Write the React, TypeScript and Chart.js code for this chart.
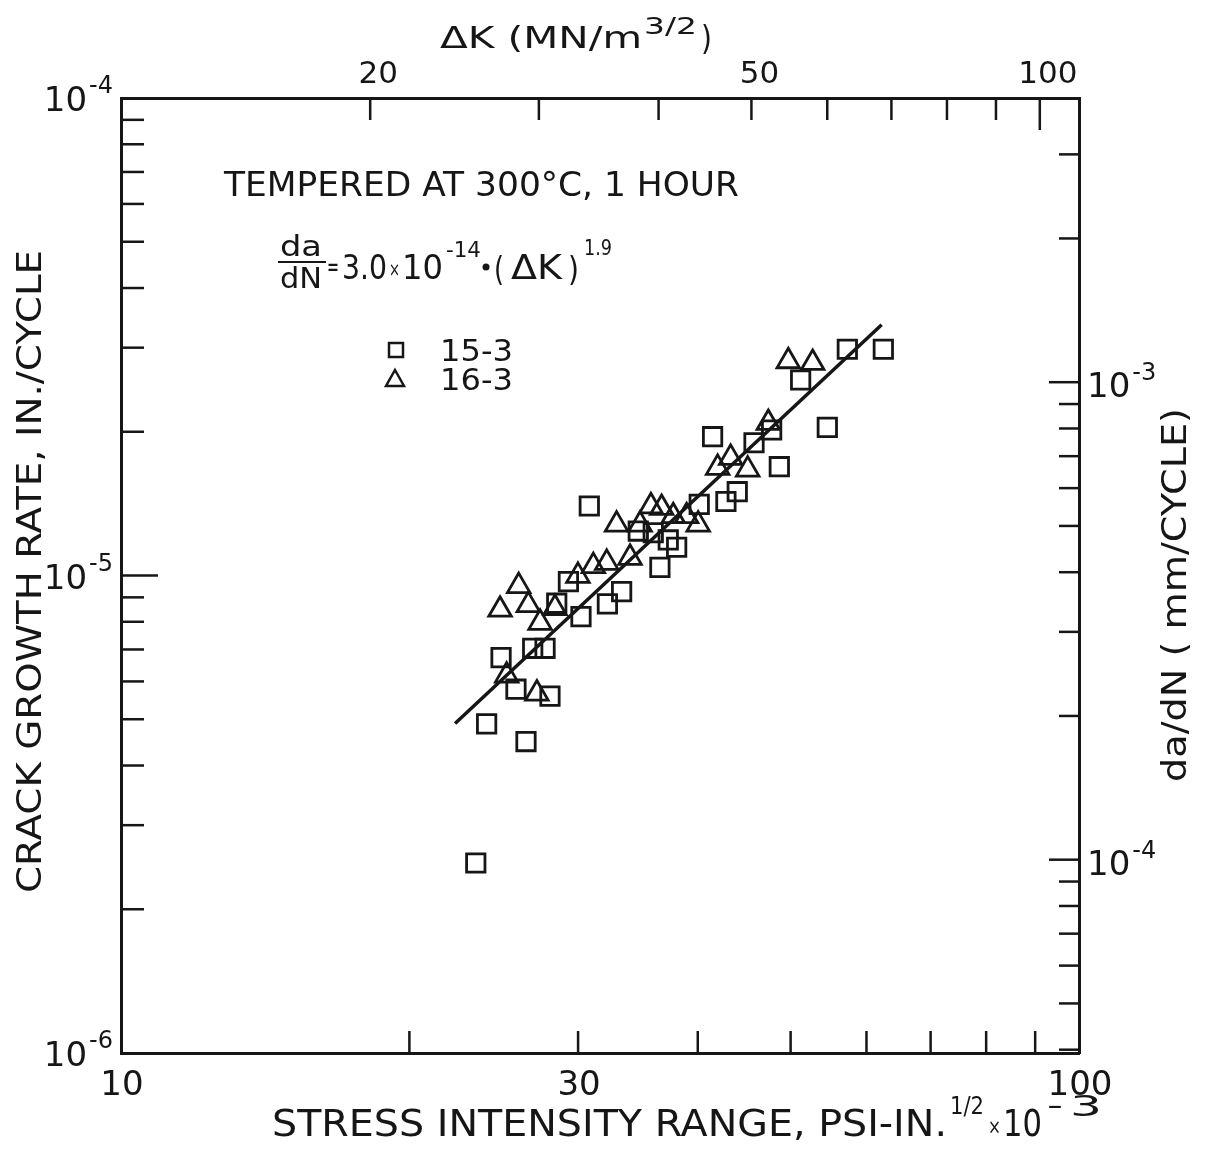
import React, { useEffect, useRef } from 'react';
import { Chart, registerables } from 'chart.js';

Chart.register(...registerables);

const INK = '#161616';
const FONT = '"DejaVu Sans", "Liberation Sans", sans-serif';

// ---- data (ΔK in psi·in^1/2 ×10^-3, da/dN in in./cycle) ----
// 15-3 (squares)
const k153 = [23.46, 24.08, 26.47, 24.93, 25.84, 26.9, 27.71, 28.04, 28.5, 30.21, 29.31, 30.82, 32.19, 33.31, 34.67, 35.94, 37.26, 38.02, 36.52, 40.14, 41.45, 42.8, 43.98, 45.79, 47.77, 48.66, 51.22, 54.61, 57.3, 62.48];
const rate153 = [2.5e-6, 4.89e-6, 4.49e-6, 6.73e-6, 5.78e-6, 7.04e-6, 7.04e-6, 5.59e-6, 8.75e-6, 8.2e-6, 9.71e-6, 1.398e-5, 8.72e-6, 9.25e-6, 1.239e-5, 1.229e-5, 1.187e-5, 1.146e-5, 1.04e-5, 1.409e-5, 1.953e-5, 1.429e-5, 1.498e-5, 1.897e-5, 2.017e-5, 1.69e-5, 2.567e-5, 2.043e-5, 2.977e-5, 2.977e-5];
// 16-3 (triangles)
const k163 = [24.87, 26.01, 26.62, 27.38, 25.27, 27.17, 28.38, 29.99, 31.12, 32.14, 32.91, 33.99, 34.82, 35.74, 36.67, 37.71, 38.94, 40.04, 41.96, 43.29, 45.1, 47.39, 49.72, 52.72];
const rate163 = [8.48e-6, 9.5e-6, 8.67e-6, 7.96e-6, 6.17e-6, 5.66e-6, 8.55e-6, 9.98e-6, 1.046e-5, 1.063e-5, 1.278e-5, 1.089e-5, 1.278e-5, 1.396e-5, 1.385e-5, 1.331e-5, 1.331e-5, 1.278e-5, 1.68e-5, 1.763e-5, 1.666e-5, 2.087e-5, 2.81e-5, 2.787e-5];
// fitted line da/dN = 3.0e-14 (ΔK)^1.9 as drawn
const fitK = [22.32, 62.23];
const fitRate = [4.9e-6, 3.35e-5];

// ---- axes ----
const xMin = 10;
const xMax = 100;
const yMin = 1e-6;
const yMax = 1e-4;
const KSI_TO_MPA = 1.0988;
const RIGHT_FACTOR = 39.37; // right axis scale as printed
const xTickValues = [10, 20, 30, 40, 50, 60, 70, 80, 90, 100];
const xTickLabels = [10, 30, 100];
const topTickValues = [20, 30, 40, 50, 60, 70, 80, 90, 100];
const topTickLabels = [20, 50, 100];
const leftTickValues = [2e-6, 3e-6, 4e-6, 5e-6, 6e-6, 7e-6, 8e-6, 9e-6, 1e-5, 2e-5, 3e-5, 4e-5, 5e-5, 6e-5, 7e-5, 8e-5, 9e-5];
const leftMajor = [1e-5];
const leftLabelValues = [1e-6, 1e-5, 1e-4];
const leftLabelExps = ['-6', '-5', '-4'];
const rightTickValues = [4e-5, 5e-5, 6e-5, 7e-5, 8e-5, 9e-5, 1e-4, 2e-4, 3e-4, 4e-4, 5e-4, 6e-4, 7e-4, 8e-4, 9e-4, 1e-3, 2e-3, 3e-3];
const rightMajor = [1e-4, 1e-3];
const rightLabelValues = [1e-4, 1e-3];
const rightLabelExps = ['-4', '-3'];

function fitText(ctx: CanvasRenderingContext2D, text: string, x0: number, x1: number, base: number, size: number) {
  ctx.save();
  ctx.font = `${size}px ${FONT}`;
  ctx.textAlign = 'left';
  ctx.textBaseline = 'alphabetic';
  const m = ctx.measureText(text).width;
  ctx.translate(x0, base);
  ctx.scale((x1 - x0) / m, 1);
  ctx.fillText(text, 0, 0);
  ctx.restore();
}

function fitTextUp(ctx: CanvasRenderingContext2D, text: string, yStart: number, yEnd: number, baseX: number, size: number) {
  ctx.save();
  ctx.font = `${size}px ${FONT}`;
  ctx.textAlign = 'left';
  ctx.textBaseline = 'alphabetic';
  const m = ctx.measureText(text).width;
  ctx.translate(baseX, yStart);
  ctx.rotate(-Math.PI / 2);
  ctx.scale((yStart - yEnd) / m, 1);
  ctx.fillText(text, 0, 0);
  ctx.restore();
}

function line(ctx: CanvasRenderingContext2D, ax: number, ay: number, bx: number, by: number) {
  ctx.beginPath();
  ctx.moveTo(ax, ay);
  ctx.lineTo(bx, by);
  ctx.stroke();
}

const decorations = {
  id: 'decorations',
  afterDraw(chart: any) {
    const ctx: CanvasRenderingContext2D = chart.ctx;
    const { x, x2, y, y2 } = chart.scales;
    const a = chart.chartArea;
    ctx.save();
    ctx.strokeStyle = INK;
    ctx.fillStyle = INK;
    ctx.lineWidth = 2.5;

    // inward ticks
    for (const v of xTickValues) {
      if (v === xMin || v === xMax) continue;
      const px = x.getPixelForValue(v);
      line(ctx, px, a.bottom, px, a.bottom - 22);
    }
    for (const v of topTickValues) {
      const px = x2.getPixelForValue(v);
      line(ctx, px, a.top, px, a.top + (v === 100 ? 32 : 22));
    }
    for (const v of leftTickValues) {
      const py = y.getPixelForValue(v);
      line(ctx, a.left, py, a.left + (leftMajor.includes(v) ? 37 : 23), py);
    }
    for (const v of rightTickValues) {
      const py = y2.getPixelForValue(v);
      line(ctx, a.right, py, a.right - (rightMajor.includes(v) ? 30 : 20), py);
    }

    // left tick labels 10^n
    leftLabelValues.forEach((v, i) => {
      const py = y.getPixelForValue(v);
      ctx.font = `24px ${FONT}`;
      const sw = ctx.measureText(leftLabelExps[i]).width;
      ctx.font = `34px ${FONT}`;
      const bw = ctx.measureText('10').width;
      const sx = 113 - sw;
      const bx = sx - 2 - bw;
      ctx.textAlign = 'left';
      ctx.textBaseline = 'alphabetic';
      ctx.fillText('10', bx, py + 13);
      ctx.font = `24px ${FONT}`;
      ctx.fillText(leftLabelExps[i], sx, py - 5);
    });
    // right tick labels
    rightLabelValues.forEach((v, i) => {
      const py = y2.getPixelForValue(v);
      ctx.font = `34px ${FONT}`;
      ctx.textAlign = 'left';
      ctx.textBaseline = 'alphabetic';
      const bw = ctx.measureText('10').width;
      ctx.fillText('10', 1087, py + 15);
      ctx.font = `24px ${FONT}`;
      ctx.fillText(rightLabelExps[i], 1087 + bw + 2, py - 2);
    });

    // axis titles
    fitText(ctx, 'ΔK (MN/m', 440, 642, 48, 31);
    fitText(ctx, '3/2', 644, 697, 34, 23);
    fitText(ctx, ')', 701, 712, 50, 33);

    fitText(ctx, 'STRESS INTENSITY RANGE, PSI-IN.', 272, 947, 1136, 37);
    fitText(ctx, '1/2', 950, 984, 1114, 24);
    fitText(ctx, '×', 988, 1001, 1134, 22);
    fitText(ctx, '10', 1003, 1042, 1136, 37);
    fitText(ctx, '-', 1047, 1063, 1114, 26);
    fitText(ctx, '3', 1070, 1102, 1116, 28);

    fitTextUp(ctx, 'CRACK GROWTH RATE, IN./CYCLE', 893, 250, 41, 33);
    fitTextUp(ctx, 'da/dN ( mm/CYCLE)', 782, 408, 1186, 33);

    // annotation
    fitText(ctx, 'TEMPERED AT 300°C, 1 HOUR', 224, 739, 196, 33);
    fitText(ctx, 'da', 280, 322, 256, 28);
    ctx.lineWidth = 2;
    line(ctx, 278, 262, 326, 262);
    fitText(ctx, 'dN', 280, 322, 288, 28);
    fitText(ctx, '=', 327, 339, 276, 26);
    fitText(ctx, '3.0', 342, 387, 279, 33);
    fitText(ctx, '×', 389, 400, 276, 20);
    fitText(ctx, '10', 402, 443, 279, 33);
    fitText(ctx, '-14', 446, 481, 257, 22);
    ctx.beginPath();
    ctx.arc(486, 267, 3.5, 0, Math.PI * 2);
    ctx.fill();
    fitText(ctx, '(', 494, 504, 281, 33);
    fitText(ctx, 'ΔK', 511, 562, 279, 33);
    fitText(ctx, ')', 568, 579, 281, 33);
    fitText(ctx, '1.9', 584, 612, 255, 22);

    // legend
    ctx.lineWidth = 2.5;
    ctx.strokeRect(389, 343, 14, 14);
    fitText(ctx, '15-3', 440, 513, 361, 31);
    ctx.beginPath();
    ctx.moveTo(395, 370);
    ctx.lineTo(404, 386);
    ctx.lineTo(386, 386);
    ctx.closePath();
    ctx.stroke();
    fitText(ctx, '16-3', 440, 513, 390, 31);

    ctx.restore();
  },
};

export default function App() {
  const ref = useRef<HTMLCanvasElement | null>(null);
  useEffect(() => {
    if (!ref.current) return;
    const border = { display: true, color: INK, width: 3 };
    const chart = new Chart(ref.current, {
      type: 'scatter',
      data: {
        datasets: [
          {
            type: 'line',
            label: 'fit',
            data: fitK.map((k, i) => ({ x: k, y: fitRate[i] })),
            borderColor: INK,
            borderWidth: 3.5,
            pointRadius: 0,
            fill: false,
            xAxisID: 'x',
            yAxisID: 'y',
          } as any,
          {
            label: '15-3',
            data: k153.map((k, i) => ({ x: k, y: rate153[i] })),
            pointStyle: 'rect',
            pointRadius: 13,
            borderColor: INK,
            borderWidth: 2.8,
            backgroundColor: 'rgba(0,0,0,0)',
            xAxisID: 'x',
            yAxisID: 'y',
          },
          {
            label: '16-3',
            data: k163.map((k, i) => ({ x: k, y: rate163[i] })),
            pointStyle: 'triangle',
            pointRadius: 13,
            borderColor: INK,
            borderWidth: 2.8,
            backgroundColor: 'rgba(0,0,0,0)',
            xAxisID: 'x',
            yAxisID: 'y',
          },
        ],
      },
      options: {
        responsive: false,
        animation: false,
        devicePixelRatio: 1,
        layout: { padding: 0 },
        plugins: { legend: { display: false }, tooltip: { enabled: false }, title: { display: false } },
        scales: {
          x: {
            type: 'logarithmic',
            position: 'bottom',
            min: xMin,
            max: xMax,
            grid: { display: false },
            border,
            ticks: {
              autoSkip: false,
              maxRotation: 0,
              padding: 5,
              labelOffset: 1,
              color: INK,
              font: { family: FONT, size: 34 },
              callback: (v: any) => (xTickLabels.includes(Number(v)) ? String(v) : ''),
            },
            afterBuildTicks: (s: any) => {
              s.ticks = xTickValues.map((v) => ({ value: v }));
            },
            afterFit: (s: any) => {
              s.height = 98;
            },
          },
          x2: {
            type: 'logarithmic',
            position: 'top',
            min: xMin * KSI_TO_MPA,
            max: xMax * KSI_TO_MPA,
            grid: { display: false },
            border,
            ticks: {
              autoSkip: false,
              maxRotation: 0,
              padding: -4,
              labelOffset: 8,
              color: INK,
              font: { family: FONT, size: 31 },
              callback: (v: any) => (topTickLabels.includes(Number(v)) ? String(v) : ''),
            },
            afterBuildTicks: (s: any) => {
              s.ticks = topTickValues.map((v) => ({ value: v }));
            },
            afterFit: (s: any) => {
              s.height = 98;
            },
          },
          y: {
            type: 'logarithmic',
            position: 'left',
            min: yMin,
            max: yMax,
            grid: { display: false },
            border,
            ticks: { display: false },
            afterBuildTicks: (s: any) => {
              s.ticks = leftLabelValues.map((v) => ({ value: v }));
            },
            afterFit: (s: any) => {
              s.width = 121;
            },
          },
          y2: {
            type: 'logarithmic',
            position: 'right',
            min: yMin * RIGHT_FACTOR,
            max: yMax * RIGHT_FACTOR,
            grid: { display: false },
            border,
            ticks: { display: false },
            afterBuildTicks: (s: any) => {
              s.ticks = rightLabelValues.map((v) => ({ value: v }));
            },
            afterFit: (s: any) => {
              s.width = 127;
            },
          },
        },
      } as any,
      plugins: [decorations],
    });
    return () => chart.destroy();
  }, []);

  return (
    <div style={{ position: 'fixed', left: 0, top: 0, width: 1206, height: 1151, background: '#fff' }}>
      <canvas ref={ref} width={1206} height={1151} style={{ display: 'block', width: 1206, height: 1151 }} />
    </div>
  );
}
